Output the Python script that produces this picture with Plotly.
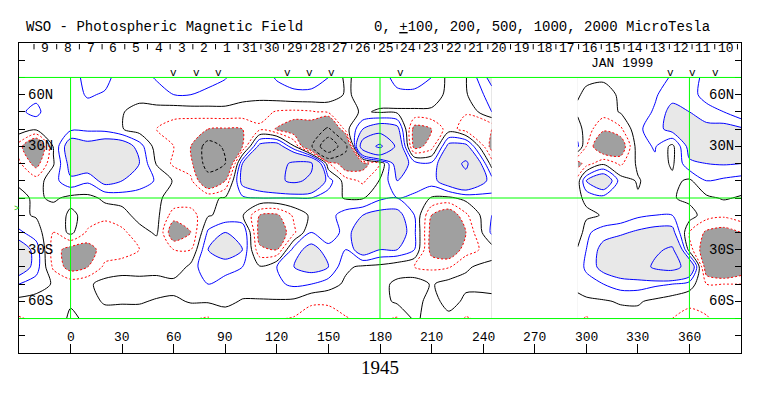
import plotly.graph_objects as go

# ---------------- data ----------------
lon_a = [-30, -20, -10, 0, 10, 20, 30, 40, 50, 60, 70, 80, 90, 100, 110, 120, 130,
         140, 150, 160, 170, 180, 190, 200, 210, 220, 230, 245]
lon_b = [295, 300, 310, 320, 330, 340, 350, 360, 370, 380, 390]
lat = [70, 60, 50, 40, 30, 20, 10, 0, -10, -20, -30, -40, -50, -60, -70]

# field values in microtesla, rows follow `lat`, columns follow lon_a
field_a = [
    [40, 40, 10, 60, 130, 130, 50, 60, 110, 150, 150, 130, 105, 50, 50, 110, 140, 140, 100, -20, 40, 60, 130, 140, 100, -30, -5, 250],
    [60, 70, 10, 60, 110, 90, 30, 30, 60, 100, 100, 80, 60, 30, 30, 60, 80, 80, 60, -10, 20, 40, 80, 80, 60, -30, -10, 150],
    [80, 130, 20, 50, 60, 50, 5, -30, -40, -60, -50, -40, -30, -40, -60, -110, -120, -110, -80, -30, 10, -10, -20, -20, -20, -30, -90, 100],
    [60, 20, 50, 80, 80, 70, 5, -50, -100, -150, -180, -200, -210, -200, -120, -210, -300, -300, -550, -50, 200, 300, 250, -250, -200, -50, -150, -200],
    [-150, -400, 10, 300, 250, 300, 300, 150, -50, -100, -200, -650, -450, -200, 250, 300, 10, -450, -1500, -600, 700, 1100, 400, -250, -150, 250, 250, -250],
    [-80, -250, -10, 250, 300, 350, 350, 200, -10, -120, -150, -650, -500, 200, 350, 400, 550, 550, -80, -300, -250, -100, 300, 150, 120, 350, 550, -50],
    [-20, -50, 60, 180, 120, 250, 200, 150, 90, -10, -80, -350, -200, 250, 350, 450, 550, 450, 150, -50, -120, 10, 200, 150, 150, 300, 400, 150],
    [30, -20, 20, -30, -30, 20, 50, 50, 10, -20, -30, -20, 10, 80, 100, 100, 100, 100, 50, -10, -10, 80, 100, 80, -10, -20, 30, 80],
    [20, -10, -60, 20, -30, -50, -50, 50, 30, -150, -150, -10, 30, 10, -200, -220, -80, 20, 60, 150, 200, 250, 250, 100, -200, -300, -120, 100],
    [120, 50, -100, 30, -120, -200, -120, -50, 20, -300, -200, 120, 200, 200, -250, -300, -120, 100, 10, 150, 300, 350, 300, 120, -250, -400, -200, 120],
    [300, 150, -150, -250, -250, -150, -150, -100, -80, -100, -100, 200, 300, 200, -180, -200, 150, 250, 150, 100, 300, 200, 200, 100, -250, -300, -150, -50],
    [300, 150, -120, -250, -200, -80, -50, -60, -50, -80, 30, 200, 120, 100, 10, 100, 200, 250, 200, 20, -20, -30, -70, -100, -120, -110, -10, 30],
    [100, 50, -10, -40, -20, 40, 50, 50, 50, 40, 60, 100, 80, 60, 60, 80, 120, 100, 50, -20, -30, -40, 30, 60, -10, 40, 20, 50],
    [-30, -40, -20, -20, -30, 10, 10, 10, -10, -20, 10, 10, 30, -10, -10, -10, -20, -90, -90, -40, -40, -40, 20, 40, -40, 40, -20, -40],
    [-110, -80, -100, 30, -30, -40, -50, -50, -60, -100, -90, -110, -60, -70, -80, -90, -110, -130, -130, -110, -70, -80, -110, 20, -40, -30, -110, -60],
]

# rows follow `lat`, columns follow lon_b
field_b = [
    [30, 20, 20, 40, 60, 60, 110, 130, 80, 100, 60],
    [10, -20, -50, 20, 60, 90, 150, 120, 80, 70, 50],
    [-20, -50, -60, 10, 60, 110, 250, 200, 120, 100, 20],
    [50, -50, -180, -120, 80, 150, 250, 300, 250, 250, 220],
    [120, -100, -350, -300, 60, 110, -30, 250, 350, 350, 300],
    [-250, -150, -20, -120, 20, 80, -20, 180, 200, 210, 200],
    [-50, 200, 350, 50, -10, 50, 30, -20, 100, 80, 60],
    [-30, 30, 60, 20, 10, 20, 10, -30, -20, 10, -10],
    [-60, -30, 10, 30, 80, 100, 100, 50, -60, -80, -40],
    [-100, 80, 150, 180, 220, 250, 250, -100, -220, -250, -200],
    [20, 100, 250, 300, 300, 450, 550, -50, -300, -350, -300],
    [50, 120, 250, 300, 350, 550, 600, 400, -300, -400, -300],
    [20, 60, 100, 150, 150, 120, 100, 50, -100, -100, -100],
    [-20, -20, -10, 10, 10, -20, -50, -80, -60, -40, -30],
    [-80, -110, -60, -40, -30, -40, -100, -130, -110, -50, -30],
]

lon_ticks = [0, 30, 60, 90, 120, 150, 180, 210, 240, 270, 300, 330, 360]
lat_ticks = [-80, -70, -60, -50, -40, -30, -20, -10, 0, 10, 20, 30, 40, 50, 60, 70, 80]
lat_label_vals = [60, 30, -30, -60]
lat_label_text = ["60N", "30N", "30S", "60S"]
day_labels = [9, 8, 7, 6, 5, 4, 3, 2, 1, 31, 30, 29, 28, 27, 26, 25, 24, 23, 22,
              21, 20, 19, 18, 17, 16, 15, 14, 13, 12, 11, 10]
day_start_lon = -21.27
day_step = 13.2
marker_lons = [60, 73, 86, 126, 139, 152, 192, 349, 362, 375]
grid_lons = [0, 180, 360]
grid_lats = [70, 0, -70]
month_text = "JAN 1999"
month_lon = 321
rotation = "1945"
title_left = "WSO - Photospheric Magnetic Field"
title_right = '0, <span style="text-decoration:underline">+</span>100, 200, 500, 1000, 2000 MicroTesla'

# ---------------- figure ----------------
OFF = 8  # default page (body) margin of the html page
W, H = 763 - OFF, 396 - OFF
L, R, T, B = 19 - OFF, 22, 43 - OFF, 43
XR = [-30, 390]
YR = [-90, 90]
MONO = "Liberation Mono, Courier New, monospace"

fillscale = [[0.0, "#a0a0a0"], [0.5, "#ffffff"], [1.0, "#e8e8e8"]]
SM = 0.8

fig = go.Figure()


def add_segment(x, y, z):
    fig.add_trace(go.Contour(
        x=x, y=y, z=z, autocontour=False,
        contours=dict(start=-200, end=200, size=400, coloring="fill", showlines=False),
        colorscale=fillscale, showscale=False, hoverinfo="skip",
        line=dict(width=0, smoothing=SM)))
    specs = [
        (0, 0, 1, "black", "solid"),
        (100, 200, 100, "blue", "solid"),
        (500, 1000, 500, "blue", "solid"),
        (-200, -100, 100, "red", "2px,2px"),
        (-1000, -500, 500, "black", "3px,2px"),
    ]
    for s, e, sz, c, d in specs:
        fig.add_trace(go.Contour(
            x=x, y=y, z=z, autocontour=False,
            contours=dict(start=s, end=e, size=sz, coloring="none"),
            showscale=False, hoverinfo="skip",
            line=dict(color=c, width=1, dash=d, smoothing=SM)))


add_segment(lon_a, lat, field_a)
add_segment(lon_b, lat, field_b)

shapes = []
for gl in grid_lons:
    shapes.append(dict(type="line", xref="x", yref="y", x0=gl, x1=gl, y0=-70, y1=70,
                       line=dict(color="#00ff00", width=1), layer="above"))
for gl in grid_lats:
    shapes.append(dict(type="line", xref="x", yref="y", x0=XR[0], x1=XR[1], y0=gl, y1=gl,
                       line=dict(color="#00ff00", width=1), layer="above"))
for k in range(len(day_labels) + 1):
    xl = day_start_lon + day_step * k
    shapes.append(dict(type="line", xref="x", yref="y", x0=xl, x1=xl, y0=86.3, y1=89.4,
                       line=dict(color="black", width=1), layer="above"))

PW = W - L - R
PH = H - T - B


def px(xp):  # page pixel x -> paper
    return (xp - OFF - L) / PW


def py(yp):  # page pixel y -> paper
    return (H - B - (yp - OFF)) / PH


def lonp(lo):
    return (lo - XR[0]) / (XR[1] - XR[0])


def latp(la):
    return (la - YR[0]) / (YR[1] - YR[0])


ann = []
ann.append(dict(text=title_left, x=px(24), y=py(27), xanchor="left", yanchor="middle"))
ann.append(dict(text=title_right, x=px(372), y=py(27), xanchor="left", yanchor="middle"))
for k, d in enumerate(day_labels):
    ann.append(dict(text=str(d), x=lonp(day_start_lon + day_step * (k + 0.5)), y=py(48.5),
                    xanchor="center", yanchor="middle",
                    font=dict(family=MONO, size=13, color="black")))
ann.append(dict(text=month_text, x=lonp(month_lon), y=py(63.5), xanchor="center", yanchor="middle",
                font=dict(family=MONO, size=13, color="black")))
for m in marker_lons:
    ann.append(dict(text="v", x=lonp(m), y=py(73), xanchor="center", yanchor="middle",
                    font=dict(family=MONO, size=11, color="black")))
for v, t in zip(lat_label_vals, lat_label_text):
    ann.append(dict(text=t, x=px(40), y=latp(v), xanchor="center", yanchor="middle"))
    ann.append(dict(text=t, x=px(721), y=latp(v), xanchor="center", yanchor="middle"))
for t in lon_ticks:
    ann.append(dict(text=str(t), x=lonp(t), y=py(337), xanchor="center", yanchor="middle",
                    font=dict(family=MONO, size=13, color="black")))
ann.append(dict(text=rotation, x=px(380), y=py(367), xanchor="center", yanchor="middle",
                font=dict(family="Liberation Serif, Times New Roman, serif", size=19, color="black")))
ann.append(dict(text=">", x=px(16), y=py(209), xanchor="center", yanchor="middle",
                font=dict(family=MONO, size=9, color="#00c000")))

for a in ann:
    a.setdefault("font", dict(family=MONO, size=14, color="black"))
    a.update(xref="paper", yref="paper", showarrow=False)

fig.update_layout(
    width=W, height=H, margin=dict(l=L, r=R, t=T, b=B, pad=0),
    paper_bgcolor="white", plot_bgcolor="white", showlegend=False,
    shapes=shapes, annotations=ann,
    xaxis=dict(range=XR, showgrid=False, zeroline=False, showline=True, mirror=True,
               linecolor="black", linewidth=1, ticks="inside", tickvals=lon_ticks,
               ticklen=9, tickcolor="black", showticklabels=False, fixedrange=True),
    yaxis=dict(range=YR, showgrid=False, zeroline=False, showline=True, mirror="ticks",
               linecolor="black", linewidth=1, ticks="inside", tickvals=lat_ticks,
               ticklen=6, tickcolor="black", showticklabels=False, fixedrange=True),
)

fig.write_html("out.html")
